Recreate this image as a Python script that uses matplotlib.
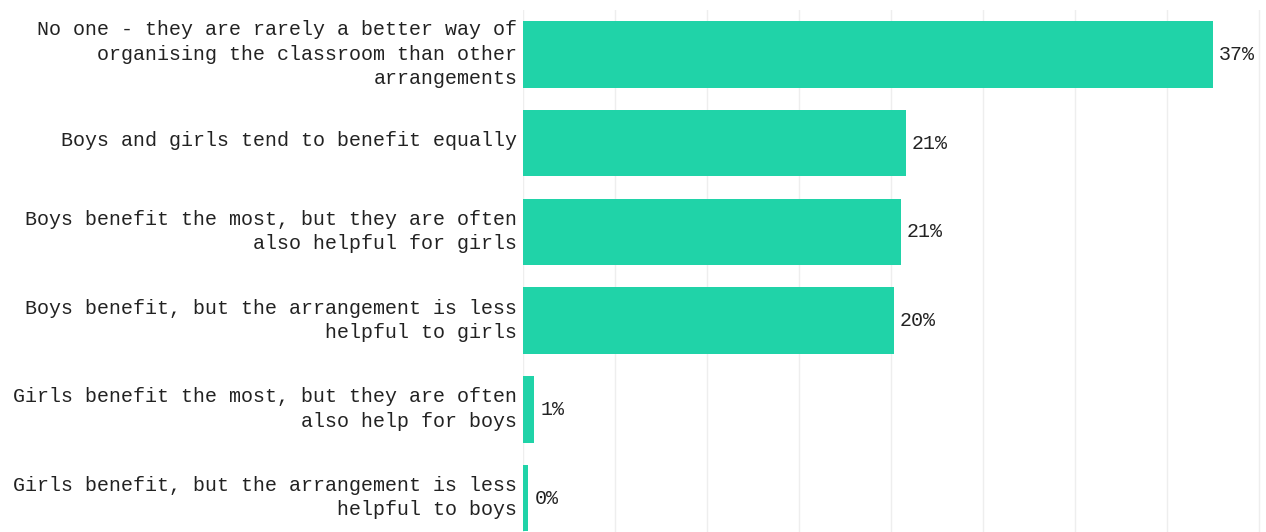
import matplotlib
matplotlib.use("Agg")
import matplotlib.pyplot as plt
from matplotlib.transforms import ScaledTranslation

categories = [
    "No one - they are rarely a better way of\norganising the classroom than other\narrangements",
    "Boys and girls tend to benefit equally",
    "Boys benefit the most, but they are often\nalso helpful for girls",
    "Boys benefit, but the arrangement is less\nhelpful to girls",
    "Girls benefit the most, but they are often\nalso help for boys",
    "Girls benefit, but the arrangement is less\nhelpful to boys",
]
values = [37.46, 20.79, 20.53, 20.13, 0.61, 0.29]
value_labels = ["37%", "21%", "21%", "20%", "1%", "0%"]
xticks = [0, 5, 10, 15, 20, 25, 30, 35, 40]

W, H = 1266, 532
fig = plt.figure(figsize=(W / 100, H / 100), dpi=100)
left, top = 523, 10
ax = fig.add_axes([left / W, 0, (W - left) / W, (H - top) / H])

font = ["Liberation Mono", "DejaVu Sans Mono"]
color = "#20D3A8"
textc = "#222222"

ypos = list(range(len(categories)))
ax.barh(ypos, values, height=0.75, color=color, zorder=2)
for y, v, lab in zip(ypos, values, value_labels):
    ax.text(v + 0.33, y, lab, va="center", ha="left", fontsize=14.4,
            family=font, color=textc)

ax.set_xlim(0, 40.36)
ax.set_ylim(5.383, -0.5)
ax.set_xticks(xticks)
ax.set_xticklabels([])
ax.tick_params(axis="x", length=0)
ax.grid(axis="x", color="#eeeeee", linewidth=1, zorder=0)
ax.set_yticks(ypos)
ax.set_yticklabels(categories, family=font, fontsize=14.4, color=textc,
                   linespacing=1.36, ha="right")
ax.tick_params(axis="y", length=0, pad=4)
shift = ScaledTranslation(0, 0.05, fig.dpi_scale_trans)
for lbl in ax.get_yticklabels():
    lbl.set_transform(lbl.get_transform() + shift)
for s in ax.spines.values():
    s.set_visible(False)

fig.savefig("out.png", dpi=100)
